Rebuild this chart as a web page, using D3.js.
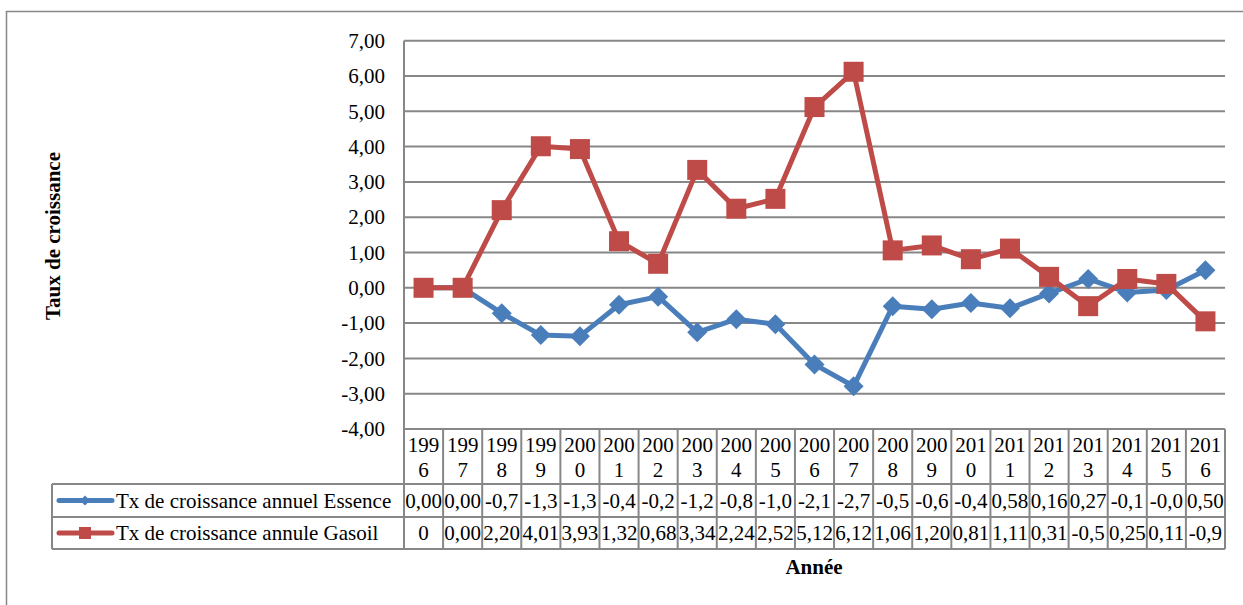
<!DOCTYPE html>
<html>
<head>
<meta charset="utf-8">
<script src="https://cdn.jsdelivr.net/npm/d3@7/dist/d3.min.js"></script>
<style>
  html, body { margin: 0; padding: 0; background: #fff; }
  svg { display: block; }
  svg text { font-family: "Liberation Serif", "Times New Roman", serif; }
</style>
</head>
<body>
<svg id="chart" width="1243" height="605"></svg>
<script>
// Years (categories) and annual growth rates
const years = ["1996","1997","1998","1999","2000","2001","2002","2003","2004","2005","2006",
               "2007","2008","2009","2010","2011","2012","2013","2014","2015","2016"];
const essence = [0, 0, -0.72, -1.34, -1.37, -0.48, -0.25, -1.26, -0.89, -1.03, -2.17,
                 -2.79, -0.52, -0.61, -0.43, -0.58, -0.16, 0.25, -0.13, -0.06, 0.50];
const gasoil = [0, 0, 2.20, 4.01, 3.93, 1.32, 0.68, 3.34, 2.24, 2.52, 5.12,
                6.12, 1.06, 1.20, 0.81, 1.11, 0.31, -0.52, 0.25, 0.11, -0.95];
// Cell texts of the data table, as printed in the narrow cells
const essenceCells = ["0,00","0,00","-0,7","-1,3","-1,3","-0,4","-0,2","-1,2","-0,8","-1,0","-2,1",
                      "-2,7","-0,5","-0,6","-0,4","0,58","0,16","0,27","-0,1","-0,0","0,50"];
const gasoilCells = ["0","0,00","2,20","4,01","3,93","1,32","0,68","3,34","2,24","2,52","5,12",
                     "6,12","1,06","1,20","0,81","1,11","0,31","-0,5","0,25","0,11","-0,9"];
const seriesNames = ["Tx de croissance annuel Essence", "Tx de croissance annule Gasoil"];
const yTicks = [-4, -3, -2, -1, 0, 1, 2, 3, 4, 5, 6, 7];

const BLUE = "#4a7ebb", RED = "#be4b48", GRID = "#878787";
const SERIF = "Liberation Serif, Times New Roman, serif";
const FS = 21;

const frLocale = d3.formatLocale({ decimal: ",", thousands: " ", grouping: [3], currency: ["", ""], minus: "-" });

const svg = d3.select("#chart");

const x = d3.scaleBand().domain(years).range([404, 1225]).paddingInner(0).paddingOuter(0);
const y = d3.scaleLinear().domain([-4, 7]).range([429, 40.7]);

// outer chart frame
svg.append("rect").attr("x", 6.5).attr("y", 11.5).attr("width", 1250).attr("height", 600)
  .attr("fill", "none").attr("stroke", GRID).attr("stroke-width", 1.5);

// horizontal gridlines
svg.append("g").selectAll("line").data(yTicks).join("line")
  .attr("x1", 404).attr("x2", 1225)
  .attr("y1", d => y(d)).attr("y2", d => y(d))
  .attr("stroke", GRID).attr("stroke-width", 2);

// y axis labels
const yAxis = d3.axisLeft(y).tickValues(yTicks).tickSize(0).tickPadding(19)
  .tickFormat(frLocale.format(".2f"));
const gy = svg.append("g").attr("transform", "translate(404,0)").call(yAxis)
  .attr("font-family", SERIF).attr("font-size", FS);
gy.select(".domain").remove();
gy.selectAll("text").attr("fill", "#000");

// data table geometry
const tableRight = 1225, legendLeft = 52;
const headTop = y(-4), headBottom = 484, row1Bottom = 517, row2Bottom = 549;
const tbl = svg.append("g").attr("font-family", SERIF).attr("font-size", FS);
// vertical column separators
tbl.selectAll("line.col").data(years).join("line").attr("class", "col")
  .attr("x1", d => x(d) + x.bandwidth()).attr("x2", d => x(d) + x.bandwidth())
  .attr("y1", headTop).attr("y2", row2Bottom)
  .attr("stroke", GRID).attr("stroke-width", 2);
// axis line down through the table
tbl.append("line").attr("x1", 404).attr("x2", 404).attr("y1", y(7)).attr("y2", row2Bottom)
  .attr("stroke", GRID).attr("stroke-width", 2);
// horizontal rules
[headBottom, row1Bottom, row2Bottom].forEach(yy => {
  tbl.append("line").attr("x1", legendLeft).attr("x2", tableRight).attr("y1", yy).attr("y2", yy)
    .attr("stroke", GRID).attr("stroke-width", 2);
});
tbl.append("line").attr("x1", legendLeft).attr("x2", legendLeft).attr("y1", headBottom).attr("y2", row2Bottom)
  .attr("stroke", GRID).attr("stroke-width", 2);

// year header (wrapped in two lines)
const head = tbl.selectAll("text.yr").data(years).join("text").attr("class", "yr")
  .attr("text-anchor", "middle").attr("fill", "#000");
head.append("tspan").attr("x", d => x(d) + x.bandwidth() / 2).attr("y", 452).text(d => d.slice(0, 3));
head.append("tspan").attr("x", d => x(d) + x.bandwidth() / 2).attr("y", 477).text(d => d.slice(3));

// value rows
const rowMid = [(headBottom + row1Bottom) / 2, (row1Bottom + row2Bottom) / 2];
[essenceCells, gasoilCells].forEach((cells, i) => {
  tbl.selectAll("text.v" + i).data(cells).join("text").attr("class", "v" + i)
    .attr("x", (d, j) => x(years[j]) + x.bandwidth() / 2)
    .attr("y", rowMid[i] + 7)
    .attr("text-anchor", "middle").attr("fill", "#000")
    .text(d => d);
});

function diamondPath(s) { return `M0,${-s}L${s},0L0,${s}L${-s},0Z`; }

// legend keys inside the table
const keyX0 = 59, keyX1 = 112, keyMid = 85;
[BLUE, RED].forEach((c, i) => {
  tbl.append("line").attr("x1", keyX0).attr("x2", keyX1).attr("y1", rowMid[i]).attr("y2", rowMid[i])
    .attr("stroke", c).attr("stroke-width", 5).attr("stroke-linecap", "round");
  if (i === 0) {
    tbl.append("path").attr("d", diamondPath(5)).attr("transform", `translate(${keyMid},${rowMid[i]})`).attr("fill", c);
  } else {
    tbl.append("rect").attr("x", keyMid - 6).attr("y", rowMid[i] - 6).attr("width", 12).attr("height", 12).attr("fill", c);
  }
  tbl.append("text").attr("x", 116).attr("y", rowMid[i] + 7).attr("fill", "#000")
    .text(seriesNames[i]);
});

// lines and markers
const cx = (d, i) => x(years[i]) + x.bandwidth() / 2;
const line = d3.line().x(cx).y(d => y(d));

svg.append("path").datum(essence).attr("d", line).attr("fill", "none")
  .attr("stroke", BLUE).attr("stroke-width", 5).attr("stroke-linejoin", "round");
svg.append("g").selectAll("path").data(essence).join("path")
  .attr("d", diamondPath(10))
  .attr("transform", (d, i) => `translate(${cx(d, i)},${y(d)})`)
  .attr("fill", BLUE);

svg.append("path").datum(gasoil).attr("d", line).attr("fill", "none")
  .attr("stroke", RED).attr("stroke-width", 5).attr("stroke-linejoin", "round");
svg.append("g").selectAll("rect").data(gasoil).join("rect")
  .attr("x", (d, i) => cx(d, i) - 10).attr("y", d => y(d) - 10)
  .attr("width", 20).attr("height", 20).attr("fill", RED);

// axis titles
svg.append("text").attr("transform", "translate(60,236) rotate(-90)")
  .attr("text-anchor", "middle").attr("font-family", SERIF).attr("font-size", FS)
  .attr("font-weight", "bold").attr("fill", "#000")
  .text("Taux de croissance");
svg.append("text").attr("x", 814).attr("y", 574)
  .attr("text-anchor", "middle").attr("font-family", SERIF).attr("font-size", FS)
  .attr("font-weight", "bold").attr("fill", "#000")
  .text("Année");
</script>
</body>
</html>
